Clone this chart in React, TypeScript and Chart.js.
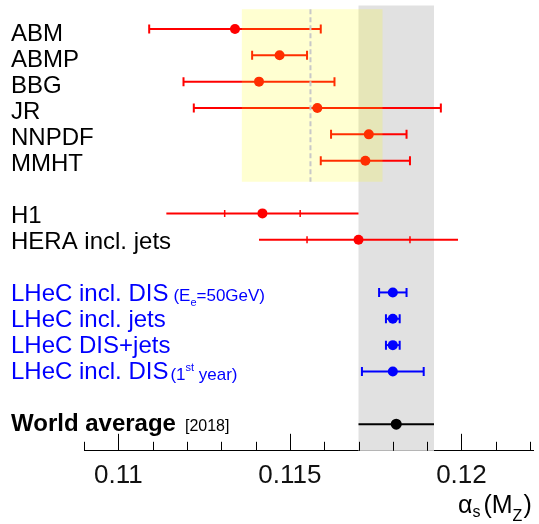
import React, { useEffect, useRef } from 'react';
import { Chart, registerables } from 'chart.js';

Chart.register(...registerables);

// ---------- data ----------
const labels = [
  'ABM', 'ABMP', 'BBG', 'JR', 'NNPDF', 'MMHT',
  'H1', 'HERA incl. jets',
  'LHeC incl. DIS', 'LHeC incl. jets', 'LHeC DIS+jets', 'LHeC incl. DIS',
  'World average',
];
const labelNotes = ['', '', '', '', '', '', '', '', 'Ee50', '', '', '1st', '[2018]'];
const rows = [0, 1, 2, 3, 4, 5, 7, 8, 10, 11, 12, 13, 15];
const central = [0.1134, 0.1147, 0.1141, 0.1158, 0.1173, 0.1172, 0.1142, 0.1170, 0.1180, 0.1180, 0.1180, 0.1180, 0.1181];
const errLow = [0.0025, 0.0008, 0.0022, 0.0036, 0.0011, 0.0013, 0.0028, 0.0029, 0.0004, 0.0002, 0.0002, 0.0009, 0.0011];
const errHigh = [0.0025, 0.0008, 0.0022, 0.0036, 0.0011, 0.0013, 0.0028, 0.0029, 0.0004, 0.0002, 0.0002, 0.0009, 0.0011];
const innerErr: (number | null)[] = [null, null, null, null, null, null, 0.0011, 0.0015, null, null, null, null, null];
const capped = [true, true, true, true, true, true, false, false, true, true, true, true, false];
const group = ['pdf', 'pdf', 'pdf', 'pdf', 'pdf', 'pdf', 'pdf', 'pdf', 'lhec', 'lhec', 'lhec', 'lhec', 'wa'];

const worldBand = [0.1170, 0.1192];
const pdfBand = [0.1136, 0.1177];
const pdfBandRows = [-0.75, 5.8];
const pdfMean = 0.1156;

const xMin = 0.109;
const xMax = 0.1221;
const majorTicks = [0.11, 0.115, 0.12];
const majorTickLabels = ['0.11', '0.115', '0.12'];
const minorTicks = [0.109, 0.111, 0.112, 0.113, 0.114, 0.116, 0.117, 0.118, 0.119, 0.121, 0.122];

const colors: Record<string, string> = { pdf: '#ff0000', lhec: '#0000ff', wa: '#000000' };
const textColors: Record<string, string> = { pdf: '#000000', lhec: '#0000ff', wa: '#000000' };

const FONT = "'Liberation Sans', Arial, Helvetica, sans-serif";

const customPlugin = {
  id: 'custom',
  beforeDatasetsDraw(chart: any) {
    const { ctx, chartArea, scales } = chart;
    const x = scales.x, y = scales.y;
    ctx.save();
    // world average band
    const gx0 = x.getPixelForValue(worldBand[0]);
    const gx1 = x.getPixelForValue(worldBand[1]);
    ctx.fillStyle = '#e1e1e1';
    ctx.fillRect(gx0, chartArea.top, gx1 - gx0, chartArea.bottom - chartArea.top);

    // error bars
    for (let i = 0; i < labels.length; i++) {
      const c = colors[group[i]];
      const py = y.getPixelForValue(rows[i]);
      const xl = x.getPixelForValue(central[i] - errLow[i]);
      const xr = x.getPixelForValue(central[i] + errHigh[i]);
      ctx.strokeStyle = c;
      ctx.lineWidth = 2;
      ctx.beginPath();
      ctx.moveTo(xl, py);
      ctx.lineTo(xr, py);
      ctx.stroke();
      if (capped[i]) {
        ctx.beginPath();
        ctx.moveTo(xl, py - 4.5);
        ctx.lineTo(xl, py + 4.5);
        ctx.moveTo(xr, py - 4.5);
        ctx.lineTo(xr, py + 4.5);
        ctx.stroke();
      }
      const ie = innerErr[i];
      if (ie != null) {
        const il = x.getPixelForValue(central[i] - ie);
        const ir = x.getPixelForValue(central[i] + ie);
        ctx.lineWidth = 1.5;
        ctx.beginPath();
        ctx.moveTo(il, py - 3.5);
        ctx.lineTo(il, py + 3.5);
        ctx.moveTo(ir, py - 3.5);
        ctx.lineTo(ir, py + 3.5);
        ctx.stroke();
      }
    }
    ctx.restore();
  },
  afterDatasetsDraw(chart: any) {
    const { ctx, chartArea, scales } = chart;
    const x = scales.x, y = scales.y;
    ctx.save();
    // PDF band overlay (semi transparent yellow)
    const yx0 = x.getPixelForValue(pdfBand[0]);
    const yx1 = x.getPixelForValue(pdfBand[1]);
    const yy0 = y.getPixelForValue(pdfBandRows[0]);
    const yy1 = y.getPixelForValue(pdfBandRows[1]);
    ctx.fillStyle = 'rgba(255,255,0,0.18)';
    ctx.fillRect(yx0, yy0, yx1 - yx0, yy1 - yy0);
    // dashed mean line
    const mx = x.getPixelForValue(pdfMean);
    ctx.strokeStyle = '#c8c8c8';
    ctx.lineWidth = 2;
    ctx.setLineDash([5, 3]);
    ctx.beginPath();
    ctx.moveTo(mx, yy0);
    ctx.lineTo(mx, yy1);
    ctx.stroke();
    ctx.setLineDash([]);

    // axis ticks (pointing upward)
    const b = chartArea.bottom;
    ctx.strokeStyle = '#000';
    ctx.lineWidth = 1;
    ctx.beginPath();
    for (const v of majorTicks) {
      const px = Math.round(x.getPixelForValue(v)) + 0.5;
      ctx.moveTo(px, b);
      ctx.lineTo(px, b - 17);
    }
    for (const v of minorTicks) {
      const px = Math.round(x.getPixelForValue(v)) + 0.5;
      ctx.moveTo(px, b);
      ctx.lineTo(px, b - 9);
    }
    ctx.stroke();
    ctx.restore();
  },
  afterDraw(chart: any) {
    const { ctx, scales } = chart;
    const y = scales.y;
    ctx.save();
    ctx.textBaseline = 'alphabetic';
    ctx.textAlign = 'left';
    for (let i = 0; i < labels.length; i++) {
      const r = rows[i];
      const base = y.getPixelForValue(r) + 11.6 - 0.3 * r;
      const g = group[i];
      ctx.fillStyle = textColors[g];
      let xx = 11;
      ctx.font = (g === 'wa' ? 'bold ' : '') + '24px ' + FONT;
      ctx.fillText(labels[i], xx, base);
      xx += ctx.measureText(labels[i]).width;
      const note = labelNotes[i];
      if (note === 'Ee50') {
        xx += 5;
        ctx.font = '17px ' + FONT;
        ctx.fillText('(E', xx, base);
        xx += ctx.measureText('(E').width;
        ctx.font = '11px ' + FONT;
        ctx.fillText('e', xx, base + 5);
        xx += ctx.measureText('e').width;
        ctx.font = '17px ' + FONT;
        ctx.fillText('=50GeV)', xx, base);
      } else if (note === '1st') {
        xx += 2;
        ctx.font = '17px ' + FONT;
        ctx.fillText('(1', xx, base + 1);
        xx += ctx.measureText('(1').width;
        ctx.font = '11px ' + FONT;
        ctx.fillText('st', xx, base - 8);
        xx += ctx.measureText('st').width;
        ctx.font = '17px ' + FONT;
        ctx.fillText(' year)', xx, base + 1);
      } else if (note) {
        xx += 9;
        ctx.font = '16px ' + FONT;
        ctx.fillText(note, xx, base);
      }
    }
    // axis title alpha_s(M_Z)
    ctx.fillStyle = '#000';
    let tx = 458;
    const tb = 513;
    ctx.font = '25px ' + FONT;
    ctx.fillText('\u03b1', tx, tb);
    tx += ctx.measureText('\u03b1').width;
    ctx.font = '16px ' + FONT;
    ctx.fillText('s', tx, tb + 4);
    tx += ctx.measureText('s').width + 3;
    ctx.font = '25px ' + FONT;
    ctx.fillText('(M', tx, tb);
    tx += ctx.measureText('(M').width;
    ctx.font = '16px ' + FONT;
    ctx.fillText('Z', tx, tb + 8);
    tx += ctx.measureText('Z').width + 1;
    ctx.font = '25px ' + FONT;
    ctx.fillText(')', tx, tb);
    ctx.restore();
  },
};

export default function App() {
  const ref = useRef<HTMLCanvasElement>(null);
  useEffect(() => {
    if (!ref.current) return;
    const datasets = ['pdf', 'lhec', 'wa'].map((g) => ({
      label: g,
      data: labels
        .map((_, i) => i)
        .filter((i) => group[i] === g)
        .map((i) => ({ x: central[i], y: rows[i] })),
      pointRadius: g === 'wa' ? 5.5 : 5,
      pointHoverRadius: 5,
      pointBackgroundColor: colors[g],
      pointBorderWidth: 0,
      borderColor: colors[g],
      showLine: false,
    }));
    const chart = new Chart(ref.current, {
      type: 'scatter',
      data: { datasets },
      options: {
        animation: false,
        responsive: false,
        events: [],
        layout: { padding: { left: 84, right: 3, top: 2, bottom: 24 } },
        plugins: { legend: { display: false }, tooltip: { enabled: false } },
        scales: {
          x: {
            type: 'linear',
            min: xMin,
            max: xMax,
            afterBuildTicks: (scale: any) => {
              scale.ticks = majorTicks.map((v) => ({ value: v }));
            },
            ticks: {
              autoSkip: false,
              maxRotation: 0,
              padding: 9,
              color: '#111',
              font: { family: FONT, size: 26 },
              callback: (_v: any, idx: number) => majorTickLabels[idx],
            },
            grid: { display: false, drawTicks: false },
            border: { display: true, color: '#000', width: 1 },
          },
          y: {
            type: 'linear',
            display: false,
            reverse: true,
            min: -0.89,
            max: 16.01,
          },
        },
      },
      plugins: [customPlugin],
    } as any);
    return () => chart.destroy();
  }, []);
  return (
    <div style={{ position: 'absolute', left: 0, top: 0, width: 539, height: 524, background: '#fff' }}>
      <canvas ref={ref} width={539} height={524} />
    </div>
  );
}
